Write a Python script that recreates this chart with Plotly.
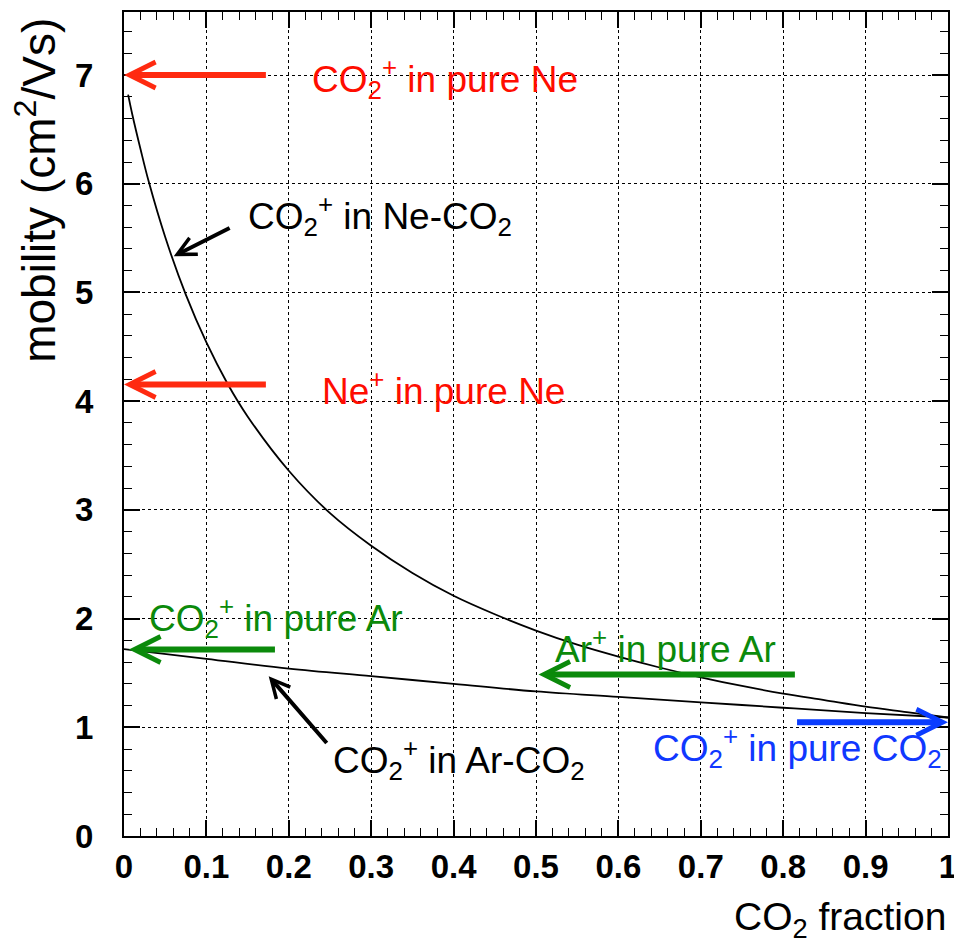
import plotly.graph_objects as go

# ---- data ----
frac_ne = [0.005, 0.01, 0.02, 0.03, 0.05, 0.075, 0.1, 0.125, 0.15, 0.2, 0.25, 0.3, 0.35, 0.4,
           0.45, 0.5, 0.55, 0.6, 0.65, 0.7, 0.75, 0.8, 0.85, 0.9, 0.95, 1.0]
mob_ne = [6.82, 6.64, 6.32, 6.02, 5.51, 4.98, 4.54, 4.17, 3.86, 3.36, 2.97, 2.67, 2.42, 2.21,
          2.04, 1.89, 1.76, 1.65, 1.55, 1.46, 1.38, 1.31, 1.25, 1.19, 1.14, 1.09]

frac_ar = [0.0, 0.1, 0.2, 0.3, 0.4, 0.5, 0.6, 0.7, 0.8, 0.9, 1.0]
mob_ar = [1.72, 1.63, 1.54, 1.47, 1.40, 1.33, 1.28, 1.23, 1.18, 1.13, 1.09]

# reference arrows: (label, tail x, tail y, head x, head y)
ref_labels = ["CO<sub>2</sub><sup>+</sup> in pure Ne", "Ne<sup>+</sup> in pure Ne",
              "CO<sub>2</sub><sup>+</sup> in pure Ar", "Ar<sup>+</sup> in pure Ar",
              "CO<sub>2</sub><sup>+</sup> in pure CO<sub>2</sub>"]
ref_tail_x = [0.174, 0.174, 0.185, 0.816, 0.815]
ref_head_x = [0.0, 0.0, 0.006, 0.503, 1.0]
ref_y = [7.0, 4.153, 1.716, 1.486, 1.047]
ref_colors = ["#ff2a10", "#ff2a10", "#0b8a0b", "#0b8a0b", "#0a3cff"]
ref_text_colors = ["#ff0d00", "#ff0d00", "#0b8a0b", "#0b8a0b", "#1038ff"]
ref_text_x = [0.226, 0.238, 0.0285, 0.521, 0.640]
ref_text_y = [6.97, 4.12, 2.01, 1.74, 0.81]

curve_labels = ["CO<sub>2</sub><sup>+</sup> in Ne-CO<sub>2</sub>",
                "CO<sub>2</sub><sup>+</sup> in Ar-CO<sub>2</sub>"]
curve_tail_x = [0.130, 0.2476]
curve_tail_y = [5.60, 0.842]
curve_head_x = [0.0604, 0.1756]
curve_head_y = [5.334, 1.470]
curve_text_x = [0.1475, 0.2517]
curve_text_y = [5.71, 0.70]

xticks = [0, 0.1, 0.2, 0.3, 0.4, 0.5, 0.6, 0.7, 0.8, 0.9, 1]
xticklabels = ["0", "0.1", "0.2", "0.3", "0.4", "0.5", "0.6", "0.7", "0.8", "0.9", "1"]
yticks = [0, 1, 2, 3, 4, 5, 6, 7]

FONT = "Liberation Sans, Arial, Helvetica, sans-serif"

fig = go.Figure()
fig.add_trace(go.Scatter(x=frac_ne, y=mob_ne, mode="lines", line=dict(color="black", width=1.8, shape="spline"),
                         showlegend=False, hoverinfo="skip"))
fig.add_trace(go.Scatter(x=frac_ar, y=mob_ar, mode="lines", line=dict(color="black", width=1.8, shape="spline"),
                         showlegend=False, hoverinfo="skip"))

annotations = []
for i in range(len(ref_labels)):
    annotations.append(dict(x=ref_head_x[i], y=ref_y[i], ax=ref_tail_x[i], ay=ref_y[i],
                            xref="x", yref="y", axref="x", ayref="y", text="", showarrow=True,
                            arrowhead=5, arrowsize=0.85, arrowwidth=6, arrowcolor=ref_colors[i], standoff=0))
    annotations.append(dict(x=ref_text_x[i], y=ref_text_y[i], xref="x", yref="y", text=ref_labels[i],
                            showarrow=False, xanchor="left", yanchor="middle",
                            font=dict(family=FONT, size=37, color=ref_text_colors[i])))
for i in range(len(curve_labels)):
    annotations.append(dict(x=curve_head_x[i], y=curve_head_y[i], ax=curve_tail_x[i], ay=curve_tail_y[i],
                            xref="x", yref="y", axref="x", ayref="y", text="", showarrow=True,
                            arrowhead=5, arrowsize=0.9, arrowwidth=4, arrowcolor="black", standoff=0))
    annotations.append(dict(x=curve_text_x[i], y=curve_text_y[i], xref="x", yref="y", text=curve_labels[i],
                            showarrow=False, xanchor="left", yanchor="middle",
                            font=dict(family=FONT, size=37, color="black")))

annotations.append(dict(x=1.0, y=-0.101, xref="paper", yref="paper", text="CO<sub>2</sub> fraction",
                        showarrow=False, xanchor="right", yanchor="middle",
                        font=dict(family=FONT, size=39, color="black")))
annotations.append(dict(x=-0.107, y=0.784, xref="paper", yref="paper", text="mobility (cm<sup>2</sup>/Vs)",
                        showarrow=False, xanchor="center", yanchor="middle", textangle=-90,
                        font=dict(family=FONT, size=46, color="black")))

axis_common = dict(showline=True, linecolor="black", linewidth=2, mirror="allticks",
                   ticks="inside", ticklen=16, tickwidth=1.5, tickcolor="black",
                   showgrid=True, gridcolor="black", gridwidth=1, griddash="dot",
                   zeroline=False, ticklabeloverflow="allow", automargin=False,
                   tickfont=dict(family=FONT, size=33, color="black", weight="bold"))

fig.update_xaxes(range=[0, 1], tickvals=xticks, ticktext=xticklabels,
                 minor=dict(dtick=0.02, ticks="inside", ticklen=8, tickcolor="black", tickwidth=1, showgrid=False),
                 ticklabelstandoff=0, **axis_common)
fig.update_yaxes(range=[0, 7.58], tickvals=yticks,
                 minor=dict(dtick=0.2, ticks="inside", ticklen=8, tickcolor="black", tickwidth=1, showgrid=False),
                 ticklabelstandoff=22, **axis_common)

fig.update_layout(width=954, height=952, margin=dict(l=123.5, r=6, t=12, b=115.5, autoexpand=False),
                  plot_bgcolor="white", paper_bgcolor="white", annotations=annotations,
                  font=dict(family=FONT))

fig.write_html("out.html")
